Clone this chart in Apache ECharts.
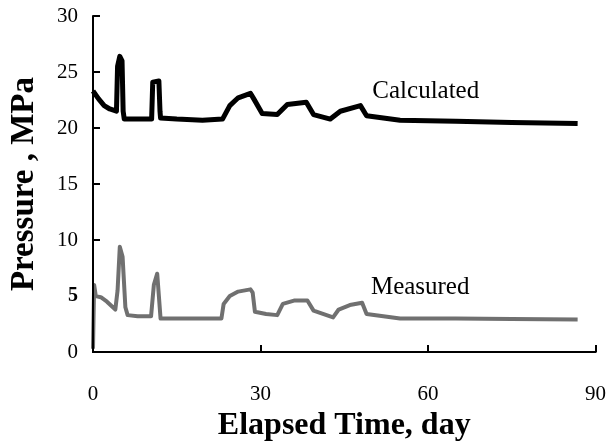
<!DOCTYPE html>
<html>
<head>
<meta charset="utf-8">
<script src="https://cdn.jsdelivr.net/npm/echarts@6/dist/echarts.min.js"></script>
<style>
  html, body { margin: 0; padding: 0; background: #fff; }
  #chart-container { width: 609px; height: 447px; }
</style>
</head>
<body>
<div id="chart-container"></div>
<script>
// values
const xTicks = [0, 30, 60, 90];
const yTicks = [0, 5, 10, 15, 20, 25, 30];

const calcDays = [0, 1, 2, 3, 4.2, 4.4, 4.8, 5.2, 5.4, 5.6, 7, 10.5, 10.7, 11.8, 12.0, 12.1, 15, 19.6, 23.2, 24.5, 26, 28.2, 28.8, 30.3, 33, 34.8, 38.2, 39.5, 42.5, 44.3, 47.9, 49, 52, 55, 65, 75, 86.8];
const calcPressure = [23.3, 22.6, 22.0, 21.7, 21.5, 25.5, 26.4, 26.0, 21.5, 20.8, 20.8, 20.8, 24.1, 24.2, 21.5, 20.9, 20.8, 20.7, 20.8, 22.0, 22.7, 23.1, 22.6, 21.3, 21.2, 22.1, 22.3, 21.2, 20.8, 21.5, 22.0, 21.1, 20.9, 20.7, 20.6, 20.5, 20.4];

const measDays = [0, 0.2, 0.5, 1.4, 2.5, 4.0, 4.4, 4.8, 5.3, 5.8, 6.2, 8, 10.4, 10.9, 11.5, 12.1, 15, 19.3, 23.0, 23.4, 24.5, 26, 28.2, 28.6, 29, 31, 33, 34, 36, 38.4, 39.5, 43, 44, 46, 48.2, 49, 52, 55, 65, 75, 86.8];
const measPressure = [0.3, 6.0, 5.0, 4.9, 4.5, 3.8, 5.5, 9.4, 8.5, 4.0, 3.3, 3.2, 3.2, 6.0, 7.0, 3.0, 3.0, 3.0, 3.0, 4.3, 5.0, 5.4, 5.6, 5.3, 3.6, 3.4, 3.3, 4.3, 4.6, 4.6, 3.7, 3.1, 3.8, 4.2, 4.4, 3.4, 3.2, 3.0, 3.0, 2.95, 2.9];

const calcData = calcDays.map((d, i) => [d, calcPressure[i]]);
const measData = measDays.map((d, i) => [d, measPressure[i]]);

const serif = '"Liberation Serif", "DejaVu Serif", serif';

const myChart = echarts.init(document.getElementById('chart-container'));
const option = {
    animation: false,
    backgroundColor: '#fff',
    grid: { left: 92, right: 13, top: 16, bottom: 86, containLabel: false },
    xAxis: [
        {
            type: 'value',
            min: 0, max: 90, interval: 30,
            name: 'Elapsed Time, day',
            nameLocation: 'middle',
            nameGap: 57,
            nameTextStyle: { fontFamily: serif, fontWeight: 'bold', fontSize: 32, color: '#000' },
            axisLine: { show: true, lineStyle: { color: '#000', width: 2 } },
            axisTick: { show: true, inside: true, length: 7, lineStyle: { color: '#000', width: 2 } },
            axisLabel: { fontFamily: serif, fontSize: 21, color: '#000', margin: 32 },
            splitLine: { show: false }
        },
        {
            type: 'value', position: 'top', min: 0, max: 90,
            axisLine: { show: true, lineStyle: { color: '#000', width: 2 } },
            axisTick: { show: false }, axisLabel: { show: false }, splitLine: { show: false }
        }
    ],
    yAxis: [
        {
            type: 'value',
            min: 0, max: 30, interval: 5,
            name: 'Pressure , MPa',
            nameLocation: 'middle',
            nameGap: 52,
            nameTextStyle: { fontFamily: serif, fontWeight: 'bold', fontSize: 33, color: '#000', padding: [0, 0, 0, 0] },
            axisLine: { show: false },
            axisTick: { show: true, inside: true, length: 7, lineStyle: { color: '#000', width: 2 } },
            axisLabel: {
                fontFamily: serif, fontSize: 21, color: '#000', margin: 15,
                formatter: v => v === 5 ? '{b|5}' : String(v),
                rich: { b: { fontFamily: serif, fontSize: 20, fontWeight: 'bold', color: '#000' } }
            },
            splitLine: { show: false }
        },
        {
            type: 'value', position: 'right', min: 0, max: 30,
            axisLine: { show: true, lineStyle: { color: '#000', width: 2 } },
            axisTick: { show: false }, axisLabel: { show: false }, splitLine: { show: false }
        }
    ],
    series: [
        {
            name: 'Calculated',
            type: 'line',
            symbol: 'none',
            data: calcData,
            lineStyle: { color: '#000', width: 5, join: 'round' },
            markPoint: {
                symbol: 'circle', symbolSize: 0,
                data: [{ coord: [59.6, 23.3] }],
                label: { show: true, position: 'inside', formatter: 'Calculated', fontFamily: serif, fontSize: 25, color: '#000' }
            },
            markLine: {
                silent: true, symbol: 'none', label: { show: false },
                lineStyle: { color: '#000', width: 2, type: 'solid' },
                data: [
                    [{ coord: [0, 0] }, { coord: [0, 16.9] }],
                    [{ coord: [0, 17.3] }, { coord: [0, 27.5] }]
                ]
            },
            z: 3
        },
        {
            name: 'Measured',
            type: 'line',
            symbol: 'none',
            data: measData,
            lineStyle: { color: '#707070', width: 4, join: 'round' },
            markPoint: {
                symbol: 'circle', symbolSize: 0,
                data: [{ coord: [58.6, 5.8] }],
                label: { show: true, position: 'inside', formatter: 'Measured', fontFamily: serif, fontSize: 25, color: '#000' }
            },
            z: 2
        }
    ]
};

option && myChart.setOption(option);
</script>
</body>
</html>
